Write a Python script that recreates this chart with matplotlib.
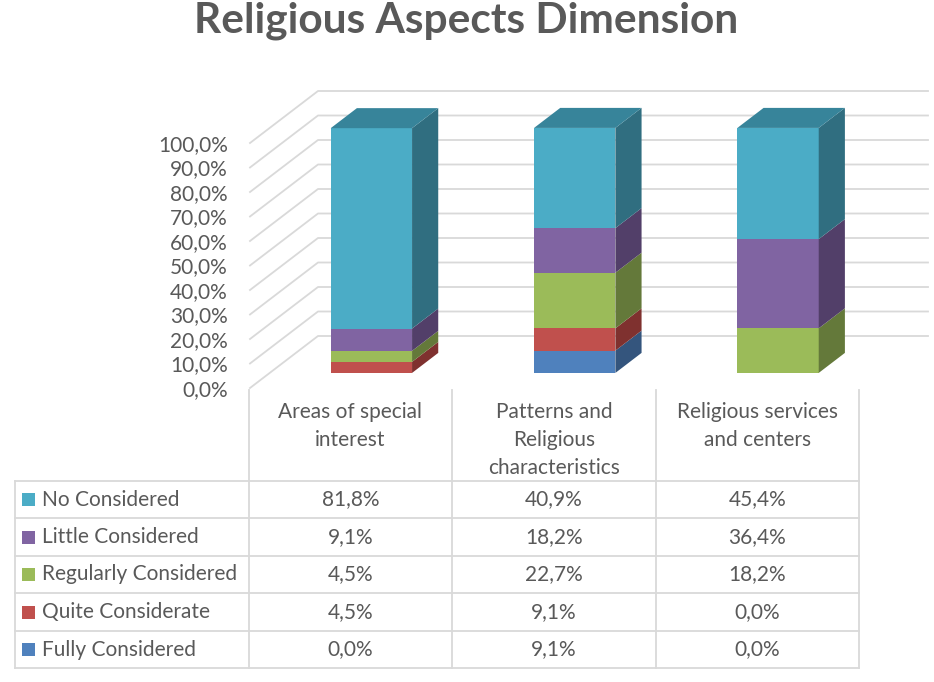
import numpy as np
import matplotlib

matplotlib.use("Agg")
import matplotlib.pyplot as plt
from matplotlib.patches import Polygon, Rectangle
from matplotlib.transforms import IdentityTransform

plt.rcParams["font.family"] = ["Lato", "DejaVu Sans"]

# ---- data -----------------------------------------------------------------
categories = ["Areas of special\ninterest",
              "Patterns and\nReligious\ncharacteristics",
              "Religious services\nand centers"]
series = ["Fully Considered", "Quite Considerate", "Regularly Considered",
          "Little Considered", "No Considered"]          # bottom -> top
fully = [0.0, 9.1, 0.0]
quite = [4.5, 9.1, 0.0]
regularly = [4.5, 22.7, 18.2]
little = [9.1, 18.2, 36.4]
no_considered = [81.8, 40.9, 45.4]
values = [fully, quite, regularly, little, no_considered]
yticks = np.arange(0, 101, 10)

# ---- styles ---------------------------------------------------------------
front_col = ["#4F81BD", "#C0504D", "#9BBB59", "#8064A2", "#4BACC6"]
side_col = ["#34557D", "#7F312F", "#64793A", "#523F69", "#306E80"]
top_col = ["#3F6797", "#9A403E", "#7C9647", "#664F82", "#37849A"]
TXT = "#595959"
GRID = "#D9D9D9"

W, H = 934, 682
DEPTH = np.array([68.0, 52.0])      # px offset from floor front to back wall
BAR_FRONT, BAR_BACK = 0.29, 0.675   # depth fractions of bar faces
BAR_W = 0.40

fig = plt.figure(figsize=(W / 100, H / 100), dpi=100)
ax = fig.add_axes([250 / W, (H - 388) / H, 610 / W, 245 / H])
ax.set_xlim(-0.5, 2.5)
ax.set_ylim(0, 100)
ax.patch.set_visible(False)
for s in ax.spines.values():
    s.set_visible(False)
ax.set_xticks([])
ax.set_yticks(yticks)
ax.set_yticklabels([f"{v:.1f}".replace(".", ",") + "%" for v in yticks],
                   fontsize=15, color=TXT)
ax.tick_params(axis="y", length=0, pad=16)


def proj(x, y, d):
    return ax.transData.transform((x, y)) + d * DEPTH


def poly(pts, color, z):
    ax.add_patch(Polygon(pts, closed=True, facecolor=color, edgecolor="none",
                         transform=IdentityTransform(), clip_on=False,
                         zorder=z))


# side wall + back wall gridlines
for v in yticks:
    pts = np.array([proj(-0.5, v, 0), proj(-0.5, v, 1), proj(2.5, v, 1)])
    ax.plot(pts[:, 0], pts[:, 1], color=GRID, lw=1.3,
            transform=IdentityTransform(), clip_on=False, zorder=1)

# 3-D stacked bars
for ci in range(len(categories)):
    x0, x1 = ci - BAR_W / 2, ci + BAR_W / 2
    bottom = 0.0
    stack_top = sum(v[ci] for v in values)
    for si, vals in enumerate(values):
        h = vals[ci]
        if h <= 0:
            continue
        y0, y1 = bottom, bottom + h
        f, b = BAR_FRONT, BAR_BACK
        poly([proj(x0, y0, f), proj(x1, y0, f), proj(x1, y1, f),
              proj(x0, y1, f)], front_col[si], 3)
        poly([proj(x1, y0, f), proj(x1, y0, b), proj(x1, y1, b),
              proj(x1, y1, f)], side_col[si], 3)
        if abs(y1 - stack_top) < 1e-9:
            poly([proj(x0, y1, f), proj(x1, y1, f), proj(x1, y1, b),
                  proj(x0, y1, b)], top_col[si], 3)
        bottom = y1

# title
fig.text(466 / W, 1 - 32 / H, "Religious Aspects Dimension", ha="center",
         va="baseline", fontsize=30.5, fontweight="bold", color=TXT)

# ---- data table -----------------------------------------------------------
tax = fig.add_axes([0, 0, 1, 1])
tax.set_xlim(0, W)
tax.set_ylim(H, 0)
tax.axis("off")

col_edges = [15, 249, 452, 656, 859]
header_top = 390
row_edges = [481, 518, 556, 593, 631, 668]
LW = 1.3

for x in col_edges[1:]:
    tax.plot([x, x], [header_top, row_edges[-1]], color=GRID, lw=LW)
tax.plot([col_edges[0]] * 2, [row_edges[0], row_edges[-1]], color=GRID, lw=LW)
for y in row_edges:
    tax.plot([col_edges[0], col_edges[-1]], [y, y], color=GRID, lw=LW)

for ci, cat in enumerate(categories):
    cx = (col_edges[ci + 1] + col_edges[ci + 2]) / 2
    for li, line in enumerate(cat.split("\n")):
        tax.text(cx, 412 + li * 28, line, ha="center", va="center",
                 fontsize=15, color=TXT)

table_order = list(range(len(series)))[::-1]   # top row = top of stack
for ri, si in enumerate(table_order):
    yc = (row_edges[ri] + row_edges[ri + 1]) / 2
    tax.add_patch(Rectangle((22, yc - 6.5), 13, 13, facecolor=front_col[si],
                            edgecolor="none"))
    tax.text(42, yc, series[si], ha="left", va="center", fontsize=15,
             color=TXT)
    for ci in range(len(categories)):
        cx = (col_edges[ci + 1] + col_edges[ci + 2]) / 2
        tax.text(cx, yc, f"{values[si][ci]:.1f}".replace(".", ",") + "%",
                 ha="center", va="center", fontsize=15, color=TXT)

fig.savefig("out.png", dpi=100)
